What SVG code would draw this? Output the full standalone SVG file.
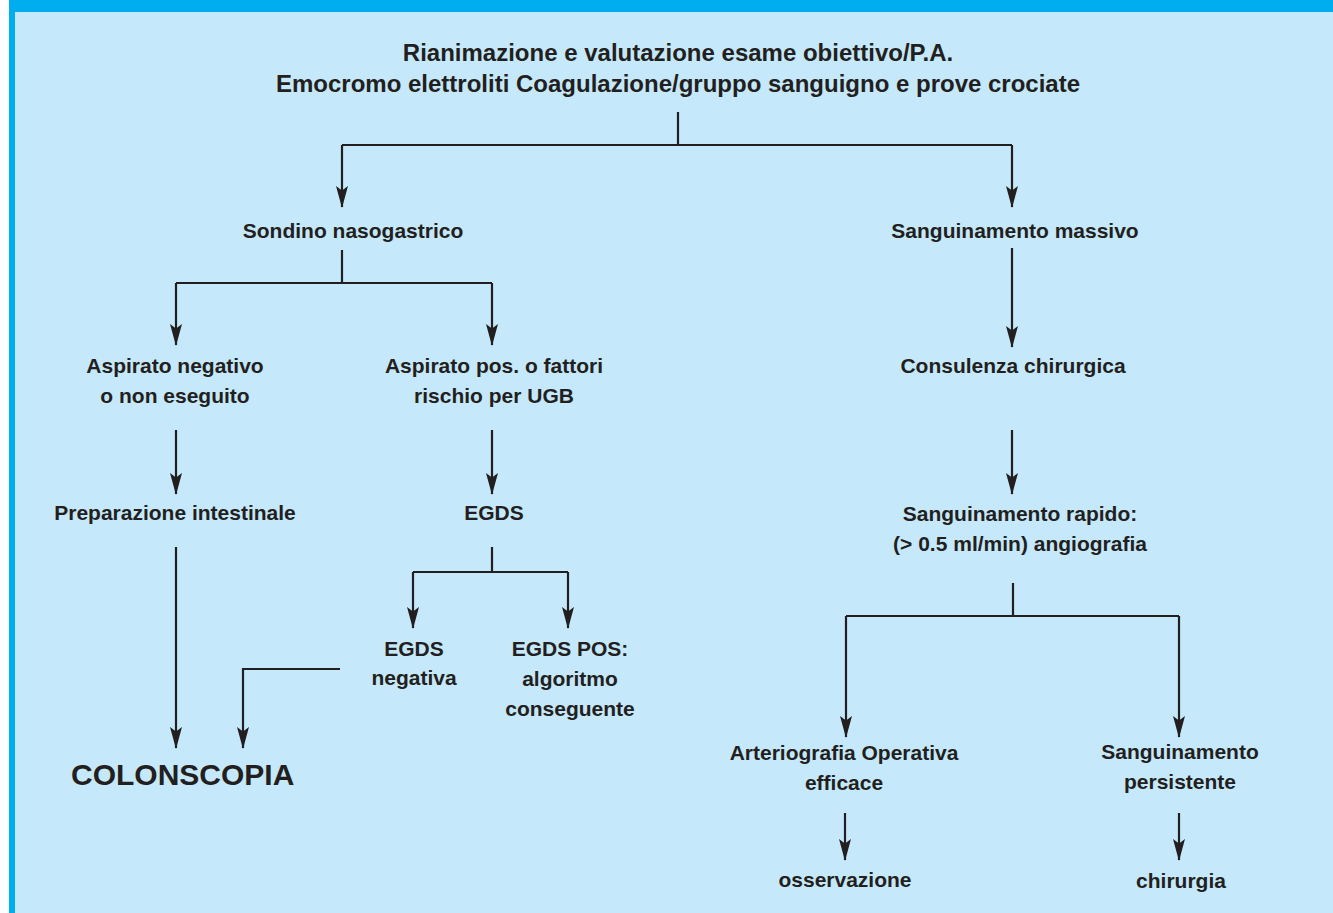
<svg xmlns="http://www.w3.org/2000/svg" width="1333" height="913" viewBox="0 0 1333 913">
<style>
.t{font-family:"Liberation Sans",Arial,sans-serif;font-weight:bold;font-size:21px;fill:#231F20;text-anchor:middle}
.title{font-size:24px}
.big{font-size:30px;text-anchor:start}
.c{fill:none;stroke:#231F20;stroke-width:2.2}
.a{marker-end:url(#ah)}
</style>
<defs>
<marker id="ah" markerUnits="userSpaceOnUse" viewBox="0 -6.5 22 13" refX="21" refY="0" markerWidth="22" markerHeight="13" orient="auto">
<path d="M0,-6 L22,0 L0,6 L4.5,0 Z" fill="#231F20"/>
</marker>
</defs>
<rect x="0" y="0" width="1333" height="913" fill="#FFFFFF"/>
<rect x="9" y="0" width="1324" height="913" fill="#00AEEF"/>
<rect x="15" y="12" width="1318" height="901" fill="#C5E9FA"/>
<g id="connectors">
<path class="c" d="M678,112 V145 M342,145 H1012"/>
<path class="c a" d="M342,145 V207"/>
<path class="c a" d="M1012,145 V207"/>
<path class="c" d="M342,250 V283 M176,283 H492"/>
<path class="c a" d="M176,283 V345"/>
<path class="c a" d="M492,283 V345"/>
<path class="c a" d="M176,430 V494"/>
<path class="c a" d="M492,430 V494"/>
<path class="c a" d="M176,547 V748"/>
<path class="c" d="M492,547 V572 M413,572 H568"/>
<path class="c a" d="M413,572 V628"/>
<path class="c a" d="M568,572 V628"/>
<path class="c a" d="M340,669 H243 V748"/>
<path class="c a" d="M1012,248 V347"/>
<path class="c a" d="M1012,430 V494"/>
<path class="c" d="M1013,583 V616 M846,616 H1179"/>
<path class="c a" d="M846,616 V737"/>
<path class="c a" d="M1179,616 V737"/>
<path class="c a" d="M845,813 V860"/>
<path class="c a" d="M1179,813 V860"/>
</g>
<g id="n-top"><text class="t title" x="678" y="61">Rianimazione e valutazione esame obiettivo/P.A.</text><text class="t title" x="678" y="92">Emocromo elettroliti Coagulazione/gruppo sanguigno e prove crociate</text></g>
<g id="n-sondino"><text class="t" x="353" y="238">Sondino nasogastrico</text></g>
<g id="n-massivo"><text class="t" x="1015" y="238">Sanguinamento massivo</text></g>
<g id="n-aspneg"><text class="t" x="175" y="373">Aspirato negativo</text><text class="t" x="175" y="403">o non eseguito</text></g>
<g id="n-asppos"><text class="t" x="494" y="373">Aspirato pos. o fattori</text><text class="t" x="494" y="403">rischio per UGB</text></g>
<g id="n-consulenza"><text class="t" x="1013" y="373">Consulenza chirurgica</text></g>
<g id="n-prep"><text class="t" x="175" y="520">Preparazione intestinale</text></g>
<g id="n-egds"><text class="t" x="494" y="520">EGDS</text></g>
<g id="n-rapido"><text class="t" x="1020" y="521">Sanguinamento rapido:</text><text class="t" x="1020" y="551">(&gt; 0.5 ml/min) angiografia</text></g>
<g id="n-egdsneg"><text class="t" x="414" y="656">EGDS</text><text class="t" x="414" y="685">negativa</text></g>
<g id="n-egdspos"><text class="t" x="570" y="656">EGDS POS:</text><text class="t" x="570" y="686">algoritmo</text><text class="t" x="570" y="716">conseguente</text></g>
<g id="n-colon"><text class="t big" x="71" y="785">COLONSCOPIA</text></g>
<g id="n-arterio"><text class="t" x="844" y="760">Arteriografia Operativa</text><text class="t" x="844" y="790">efficace</text></g>
<g id="n-persist"><text class="t" x="1180" y="759">Sanguinamento</text><text class="t" x="1180" y="789">persistente</text></g>
<g id="n-oss"><text class="t" x="845" y="887">osservazione</text></g>
<g id="n-chir"><text class="t" x="1181" y="888">chirurgia</text></g>
</svg>
